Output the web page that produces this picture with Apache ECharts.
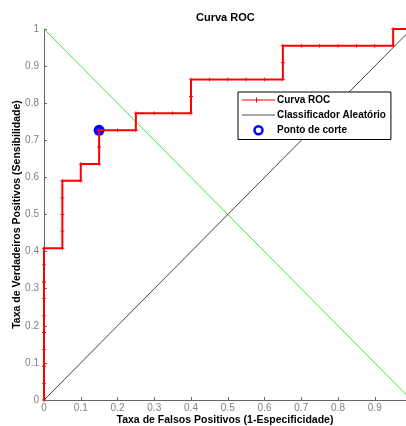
<!DOCTYPE html>
<html>
<head>
<meta charset="utf-8">
<script src="https://cdn.jsdelivr.net/npm/echarts@6/dist/echarts.min.js"></script>
<style>
  html, body { margin: 0; padding: 0; background: #fff; }
  #chart { width: 406px; height: 426px; }
</style>
</head>
<body>
<div id="chart"></div>
<script>
// curva ROC
const fpr = [0, 0, 0, 0, 0, 0, 0, 0, 0, 0,
  0.05, 0.05, 0.05, 0.05, 0.05,
  0.10, 0.10,
  0.15, 0.15, 0.15,
  0.20, 0.25, 0.25,
  0.30, 0.35, 0.40, 0.40, 0.40,
  0.45, 0.50, 0.55, 0.60, 0.65, 0.65, 0.65,
  0.70, 0.75, 0.80, 0.85, 0.90, 0.95, 0.95, 1.00];
const tpr = [0, 0.045, 0.091, 0.136, 0.182, 0.227, 0.273, 0.318, 0.364, 0.409,
  0.409, 0.455, 0.500, 0.545, 0.591,
  0.591, 0.636,
  0.636, 0.682, 0.727,
  0.727, 0.727, 0.773,
  0.773, 0.773, 0.773, 0.818, 0.864,
  0.864, 0.864, 0.864, 0.864, 0.864, 0.909, 0.955,
  0.955, 0.955, 0.955, 0.955, 0.955, 0.955, 1.000, 1.000];

// classificador aleatório e linha verde
const randX = [0, 1];
const randY = [0, 1];
const greenX = [0, 1];
const greenY = [1, 0];

// ponto de corte
const cutX = [0.15];
const cutY = [0.727];

const xTicks = [0, 0.1, 0.2, 0.3, 0.4, 0.5, 0.6, 0.7, 0.8, 0.9];
const yTicks = [0, 0.1, 0.2, 0.3, 0.4, 0.5, 0.6, 0.7, 0.8, 0.9, 1];

const zip = (xs, ys) => xs.map((x, i) => [x, ys[i]]);

const font = "Liberation Sans, Arial, sans-serif";
const plus = "path://M2,0H3V2H5V3H3V5H2V3H0V2H2Z";

const option = {
  animation: false,
  title: {
    text: "Curva ROC",
    left: 196,
    top: 12,
    padding: 0,
    textStyle: { fontFamily: font, fontSize: 11, fontWeight: "bold", color: "#000" },
  },
  legend: {
    orient: "vertical",
    left: 238,
    top: 92,
    padding: [3, 5, 4, 4],
    itemGap: 5,
    itemWidth: 33,
    itemHeight: 8,
    backgroundColor: "#fff",
    borderColor: "#000",
    borderWidth: 1,
    borderRadius: 0,
    selectedMode: false,
    textStyle: { fontFamily: font, fontSize: 10, fontWeight: "bold", color: "#000", padding: [0, 0, 0, -3] },
    data: [
      { name: "Curva ROC", icon: "path://M0,2H14V0H15V2H33V3H15V5H14V3H0Z", itemStyle: { color: "#ff0000" } },
      { name: "Classificador Aleatório", icon: "path://M0,0H33V1H0Z", itemStyle: { color: "#555" } },
      {
        name: "Ponto de corte",
        icon: "circle",
        itemStyle: { color: "#fff", borderColor: "#0000ff", borderWidth: 2.5 },
      },
    ],
  },
  grid: {
    left: 44,
    right: 0,
    top: 29,
    bottom: 26,
    containLabel: false,
    outerBoundsMode: "none",
  },
  xAxis: {
    type: "value",
    min: 0,
    max: 0.985,
    interval: 0.1,
    name: "Taxa de Falsos Positivos (1-Especificidade)",
    nameLocation: "middle",
    nameGap: 15,
    nameMoveOverlap: false,
    nameTextStyle: { fontFamily: font, fontSize: 10.5, fontWeight: "bold", color: "#000" },
    axisLine: { show: true, lineStyle: { color: "#666", width: 1 } },
    axisTick: { show: true, inside: true, length: 3, lineStyle: { color: "#666" } },
    axisLabel: {
      margin: 3,
      fontFamily: font,
      fontSize: 10,
      color: "#808080",
      customValues: xTicks,
      formatter: (v) => String(+v.toFixed(1)),
    },
    splitLine: { show: false },
  },
  yAxis: {
    type: "value",
    min: 0,
    max: 1,
    interval: 0.1,
    name: "Taxa de Verdadeiros Positivos (Sensibilidade)",
    nameLocation: "middle",
    nameGap: 21,
    nameMoveOverlap: false,
    nameTextStyle: { fontFamily: font, fontSize: 10.5, fontWeight: "bold", color: "#000" },
    axisLine: { show: true, lineStyle: { color: "#666", width: 1 } },
    axisTick: { show: true, inside: true, length: 3, lineStyle: { color: "#666" } },
    axisLabel: {
      margin: 5,
      fontFamily: font,
      fontSize: 10,
      color: "#808080",
      customValues: yTicks,
      formatter: (v) => String(+v.toFixed(1)),
    },
    splitLine: { show: false },
  },
  series: [
    {
      name: "Linha verde",
      type: "line",
      data: zip(greenX, greenY),
      symbol: "none",
      lineStyle: { color: "#3ee83e", width: 1 },
      z: 1,
    },
    {
      name: "Classificador Aleatório",
      type: "line",
      data: zip(randX, randY),
      symbol: "none",
      itemStyle: { color: "#444" },
      lineStyle: { color: "#444", width: 1 },
      z: 1,
    },
    {
      name: "Ponto de corte",
      type: "scatter",
      data: zip(cutX, cutY),
      symbol: "circle",
      symbolSize: 11,
      itemStyle: { color: "#0000ff", opacity: 1 },
      z: 2,
    },
    {
      name: "Curva ROC",
      type: "line",
      data: zip(fpr, tpr),
      symbol: plus,
      symbolSize: 4,
      showSymbol: true,
      itemStyle: { color: "#ff0000" },
      lineStyle: { color: "#ff0000", width: 2 },
      z: 3,
    },
  ],
};

const myChart = echarts.init(document.getElementById("chart"));
myChart.setOption(option);
</script>
</body>
</html>
